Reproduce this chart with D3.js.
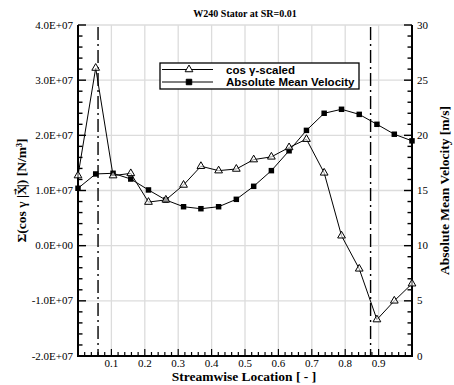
<!DOCTYPE html>
<html lang="en">
<head>
  <meta charset="UTF-8">
  <title>W240 Stator at SR=0.01</title>
  <script src="https://d3js.org/d3.v7.min.js"></script>
  <style>
    body { margin: 0; background: #fff; }
    svg { display: block; }
    .tick-label { font-family: 'Liberation Serif', 'Times New Roman', serif; font-size: 11px; fill: #000; }
    .axis-title { font-family: 'Liberation Serif', 'Times New Roman', serif; font-size: 13.5px; font-weight: bold; fill: #000; }
    .legend text { font-family: 'Liberation Sans', Arial, sans-serif; font-size: 11.5px; font-weight: bold; fill: #000; }
  </style>
</head>
<body>
<svg width="454" height="385"></svg>
<script>
  // streamwise location of the probe planes
  const streamLoc = [0.000, 0.053, 0.105, 0.158, 0.211, 0.263, 0.316, 0.368, 0.421, 0.474,
                     0.526, 0.579, 0.632, 0.684, 0.737, 0.789, 0.842, 0.895, 0.947, 1.000];
  // cos gamma-scaled (left axis, N/m^3)
  const cosScaled = [1.27e7, 3.22e7, 1.27e7, 1.31e7, 0.79e7, 0.83e7, 1.10e7, 1.44e7, 1.36e7, 1.39e7,
                     1.56e7, 1.61e7, 1.78e7, 1.93e7, 1.32e7, 0.18e7, -0.42e7, -1.34e7, -1.00e7, -0.69e7];
  // absolute mean velocity (right axis, m/s)
  const velocity = [15.2, 16.5, 16.56, 16.04, 15.05, 14.14, 13.53, 13.35, 13.53, 14.2,
                    15.38, 16.8, 18.6, 20.45, 22.0, 22.36, 21.9, 21.0, 20.1, 19.5];
  // dash-dot marker lines
  const markerLines = [0.06, 0.876];

  const leftTicks = [-2e7, -1e7, 0, 1e7, 2e7, 3e7, 4e7];
  const rightTicks = [0, 5, 10, 15, 20, 25, 30];
  const xTicks = [0.1, 0.2, 0.3, 0.4, 0.5, 0.6, 0.7, 0.8, 0.9];

  const svg = d3.select("svg");
  const pLeft = 78, pRight = 412, pTop = 25, pBottom = 356;

  const x = d3.scaleLinear().domain([0, 1]).range([pLeft, pRight]);
  const yL = d3.scaleLinear().domain([-2e7, 4e7]).range([pBottom, pTop]);
  const yR = d3.scaleLinear().domain([0, 30]).range([pBottom, pTop]);

  const fmtE = d => d === 0 ? "0.0E+00" : (d / 1e7).toFixed(1) + "E+07";

  // grid
  const grid = svg.append("g").attr("stroke", "#dcdcdc").attr("stroke-width", 1.3);
  grid.selectAll("line.v").data(xTicks).join("line")
    .attr("x1", d => x(d)).attr("x2", d => x(d)).attr("y1", pTop).attr("y2", pBottom);
  grid.selectAll("line.h").data(leftTicks.filter(d => d > -2e7)).join("line")
    .attr("x1", pLeft).attr("x2", pRight).attr("y1", d => yL(d)).attr("y2", d => yL(d));

  // dash-dot vertical lines
  svg.append("g").selectAll("line").data(markerLines).join("line")
    .attr("x1", d => x(d)).attr("x2", d => x(d))
    .attr("y1", pTop + 2).attr("y2", pBottom)
    .attr("stroke", "#000").attr("stroke-width", 1.4)
    .attr("stroke-dasharray", "13,4,2,4");

  // axes lines and ticks
  const ax = svg.append("g").attr("stroke", "#000");
  ax.append("line").attr("x1", pLeft).attr("x2", pLeft).attr("y1", pTop).attr("y2", pBottom + 1).attr("stroke-width", 2);
  ax.append("line").attr("x1", pRight).attr("x2", pRight).attr("y1", pTop).attr("y2", pBottom + 1).attr("stroke-width", 2);
  ax.append("line").attr("x1", pLeft - 1).attr("x2", pRight + 1).attr("y1", pBottom).attr("y2", pBottom).attr("stroke-width", 2);

  const leftMinor = d3.range(-2e7, 4e7 + 1, 2e6);
  ax.selectAll("line.lt").data(leftMinor).join("line")
    .attr("x1", pLeft).attr("x2", (d, i) => pLeft + (i % 5 === 0 ? 8 : 4.5))
    .attr("y1", d => yL(d)).attr("y2", d => yL(d)).attr("stroke-width", 1.4);
  const rightMinor = d3.range(0, 31, 1);
  ax.selectAll("line.rt").data(rightMinor).join("line")
    .attr("x1", pRight).attr("x2", d => pRight - (d % 5 === 0 ? 8 : 4.5))
    .attr("y1", d => yR(d)).attr("y2", d => yR(d)).attr("stroke-width", 1.4);
  const xMinor = d3.range(0, 51, 1).map(i => i * 0.02);
  ax.selectAll("line.bt").data(xMinor).join("line")
    .attr("x1", d => x(d)).attr("x2", d => x(d))
    .attr("y1", pBottom).attr("y2", (d, i) => pBottom - (i % 5 === 0 ? 7 : 4))
    .attr("stroke-width", 1.2);

  // tick labels
  svg.append("g").selectAll("text").data(leftTicks).join("text")
    .attr("class", "tick-label").attr("text-anchor", "end")
    .attr("x", pLeft - 5).attr("y", d => yL(d)).attr("dy", "0.33em").text(fmtE);
  svg.append("g").selectAll("text").data(rightTicks).join("text")
    .attr("class", "tick-label").attr("text-anchor", "start")
    .attr("x", pRight + 5).attr("y", d => yR(d)).attr("dy", "0.33em").text(d => d);
  svg.append("g").selectAll("text").data(xTicks).join("text")
    .attr("class", "tick-label").attr("text-anchor", "middle")
    .attr("x", d => x(d)).attr("y", pBottom + 11).text(d => d.toFixed(1));

  // titles
  svg.append("text").attr("x", 245).attr("y", 17).attr("text-anchor", "middle")
    .attr("font-family", "'Liberation Serif', serif").attr("font-size", 10).attr("font-weight", "bold")
    .text("W240 Stator at SR=0.01");
  svg.append("text").attr("class", "axis-title").attr("x", 244).attr("y", 381)
    .attr("text-anchor", "middle").text("Streamwise Location [ - ]");

  // left title with a vector arrow over the X
  const lt = svg.append("text").attr("class", "axis-title").attr("text-anchor", "middle")
    .attr("transform", `translate(26,${(pTop + pBottom) / 2}) rotate(-90)`);
  lt.append("tspan").text("Σ(cos γ |X");
  lt.append("tspan").attr("font-size", 8).attr("font-family", "'DejaVu Sans', sans-serif")
    .attr("dx", -9.5).attr("dy", -8.5).text("→");
  lt.append("tspan").attr("dx", 1).attr("dy", 8.5).text("|) [N/m³]");

  svg.append("text").attr("class", "axis-title").attr("text-anchor", "middle")
    .attr("transform", `translate(449,${(pTop + pBottom) / 2}) rotate(-90)`)
    .text("Absolute Mean Velocity [m/s]");

  // series lines
  const idx = d3.range(streamLoc.length);
  const lineL = d3.line().x(i => x(streamLoc[i])).y(i => yL(cosScaled[i]));
  const lineR = d3.line().x(i => x(streamLoc[i])).y(i => yR(velocity[i]));
  svg.append("path").attr("d", lineR(idx)).attr("fill", "none").attr("stroke", "#000").attr("stroke-width", 1);
  svg.append("path").attr("d", lineL(idx)).attr("fill", "none").attr("stroke", "#000").attr("stroke-width", 1);

  const tri = d3.symbol().type(d3.symbolTriangle).size(26);
  const sq = d3.symbol().type(d3.symbolSquare).size(30);

  svg.append("g").selectAll("path").data(idx).join("path")
    .attr("d", sq).attr("transform", i => `translate(${x(streamLoc[i])},${yR(velocity[i])})`)
    .attr("fill", "#000");
  svg.append("g").selectAll("path").data(idx).join("path")
    .attr("d", tri).attr("transform", i => `translate(${x(streamLoc[i])},${yL(cosScaled[i])})`)
    .attr("fill", "#fff").attr("fill-opacity", 0.6).attr("stroke", "#000").attr("stroke-width", 1);

  // legend
  const lg = svg.append("g").attr("class", "legend");
  lg.append("rect").attr("x", 160).attr("y", 63).attr("width", 199).attr("height", 26)
    .attr("fill", "#fff").attr("stroke", "#000").attr("stroke-width", 1.3);
  const items = [{ label: "cos γ-scaled", sym: tri, fill: "#fff" }, { label: "Absolute Mean Velocity", sym: sq, fill: "#000" }];
  items.forEach((it, k) => {
    const yy = 69.5 + k * 12.5;
    lg.append("line").attr("x1", 162).attr("x2", 213).attr("y1", yy).attr("y2", yy)
      .attr("stroke", "#000").attr("stroke-width", 1);
    lg.append("path").attr("d", it.sym).attr("transform", `translate(189,${yy})`)
      .attr("fill", it.fill).attr("stroke", "#000").attr("stroke-width", 1);
    lg.append("text").attr("x", 226).attr("y", yy).attr("dy", "0.36em").text(it.label);
  });
</script>
</body>
</html>
